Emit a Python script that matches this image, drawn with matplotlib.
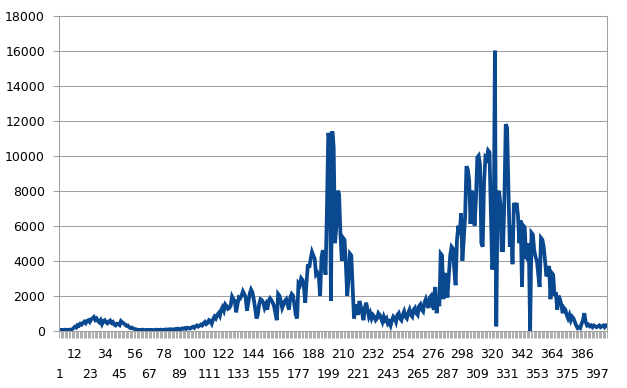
import numpy as np
import matplotlib
matplotlib.use("Agg")
import matplotlib.pyplot as plt
import matplotlib.transforms as mtransforms

# daily values, one row = 10 days (roughly)
values = [
    40, 50, 40, 50, 60, 40, 50, 60,
    40, 80, 150, 230, 180, 320, 280, 400, 350, 450,
    520, 430, 560, 600, 500, 650, 700, 780, 620, 700,
    560, 480, 600, 380, 550, 600, 480, 420, 520, 580,
    450, 500, 350, 300, 400, 380, 320, 550, 480, 420,
    350, 280, 300, 200, 150, 180, 120, 100, 80, 60,
    50, 40, 50, 60, 40, 30, 50, 40, 50,
    40, 50, 30, 40, 60, 50, 40, 60, 50, 40,
    60, 70, 50, 80, 60, 90, 70, 60, 100, 80,
    120, 90, 80, 130, 110, 150, 100, 170, 140, 120,
    180, 220, 160, 250, 300, 230, 280, 350, 300, 420,
    500, 380, 450, 600, 550, 400, 650, 800, 700, 900,
    1000, 850, 1200, 1350, 1150, 1500, 1400, 1250, 1300, 1450,
    1950, 1800, 1700, 1050, 1500, 1900, 1850, 2000, 2250, 2100,
    1900, 1150, 1600, 2100, 2350, 2200, 1800, 1300, 700, 900,
    1500, 1800, 1750, 1600, 1300, 1500, 1200, 1700, 1850, 1750,
    1600, 1400, 1000, 600, 2100, 2000, 1700, 1300, 1500, 1700,
    1800, 1500, 1200, 1900, 2100, 2000, 1500, 900, 700, 2700,
    2600, 3000, 2900, 2500, 1600, 2800, 3800, 3600, 4100, 4500,
    4300, 4100, 3200, 3300, 3100, 2000, 4200, 4600, 4000, 3200,
    6800, 11300, 11000, 1700, 11400, 10500, 5000, 6000, 8000, 7800,
    5500, 4000, 5300, 5200, 3800, 2000, 3000, 4400, 4300, 2500,
    700, 1200, 1500, 900, 1700, 1400, 1000, 600, 1300, 1600,
    1200, 800, 1000, 700, 900, 800, 600, 700, 1000, 900,
    700, 500, 800, 600, 700, 400, 500, 300, 600,
    800, 700, 500, 900, 1000, 700, 600, 900, 1100, 800,
    700, 1000, 1200, 900, 800, 1200, 1300, 1000, 900, 1400,
    1500, 1200, 1100, 1600, 1800, 1500, 1300, 1900, 2000, 1400,
    1200, 2500, 1000, 1900, 1400, 4400, 4300, 1800, 3300, 2800,
    1900, 3200, 4300, 4800, 4700, 3500, 2600, 5200, 6000, 5500,
    6700, 4000, 5200, 6500, 9400, 9200, 8600, 6100, 8000, 7600,
    6000, 7500, 9900, 10000, 9500, 5000, 4800, 8500, 9900, 9800,
    10300, 10200, 6900, 3500, 4200, 16000, 250, 7500, 8000, 7300,
    4600, 4600, 7500, 11800, 11600, 8000, 4800, 6000, 3800, 7300,
    7000, 7300, 6600, 5000, 6300, 2500, 6000, 5900, 4200, 4100,
    5000, 0, 5600, 5500, 4600, 4200, 4000, 3200, 2500, 5300,
    5200, 4800, 4000, 3100, 3300, 3700, 1800, 3300, 3200, 2000,
    2200, 1200, 2000, 1800, 1500, 1000, 1300, 1200, 900, 700,
    900, 600, 800, 700, 500, 300, 150, 200, 150, 400,
    600, 1000, 500, 300, 350, 250, 300, 200, 300, 250,
    200, 250, 300, 200, 250, 300, 200, 300,
]
days = np.arange(1, len(values) + 1)
label_step = 11
y_ticks = list(range(0, 18001, 2000))

grey = "#a0a0a0"
plt.rcParams["font.family"] = "DejaVu Sans"

fig = plt.figure(figsize=(6.27, 3.88), dpi=100)
ax = fig.add_axes([0.0946, 0.1477, 0.873, 0.8118])

x = np.arange(len(values))
ax.plot(x, values, color="#0a4890", lw=2.7, solid_joinstyle="miter")

ax.set_xlim(-0.5, len(values) - 0.5)
ax.set_ylim(0, 18000)
ax.set_yticks(y_ticks)
ax.set_yticklabels([str(v) for v in y_ticks], fontsize=9)
ax.yaxis.grid(True, color=grey, lw=0.75)
ax.set_axisbelow(True)
ax.tick_params(axis="y", length=4.3, color=grey, width=0.75, pad=6)

# a grey tick at every category boundary
ax.set_xticks(np.arange(len(values) + 1) - 0.5)
ax.set_xticklabels([])
ax.tick_params(axis="x", length=5, color=grey, width=0.6)

# category labels every 11th day, staggered on two rows like excel does
trans = mtransforms.blended_transform_factory(ax.transData, ax.transAxes)
for j, (xi, d) in enumerate(zip(x[::label_step], days[::label_step])):
    yy = -0.076 if j % 2 == 1 else -0.14
    ax.text(xi, yy, str(d), transform=trans, ha="center", va="center",
            fontsize=9)

for s in ax.spines.values():
    s.set_color(grey)
    s.set_linewidth(0.75)

fig.savefig("out.png", dpi=100)
